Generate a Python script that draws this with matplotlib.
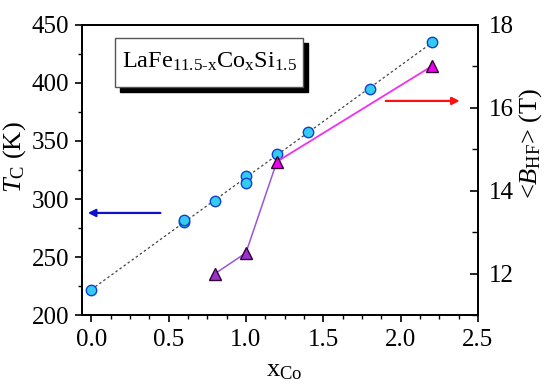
import numpy as np
import matplotlib
matplotlib.use('Agg')
import matplotlib.pyplot as plt
from matplotlib.patches import FancyBboxPatch

plt.rcParams['font.family'] = ['Liberation Serif', 'DejaVu Serif']
plt.rcParams['mathtext.fontset'] = 'custom'
plt.rcParams['mathtext.rm'] = 'Liberation Serif'
plt.rcParams['mathtext.it'] = 'Liberation Serif:italic'

# данные: T_C (левая ось)
x_tc = [0.0, 0.6, 0.6, 0.8, 1.0, 1.0, 1.2, 1.4, 1.8, 2.2]
tc = [222, 280, 282, 298, 320, 314, 339, 358, 395, 435]

# данные: <B_HF> (правая ось)
x_bhf_low = [0.8, 1.0, 1.2]
bhf_low = [12.0, 12.5, 14.7]
x_bhf_high = [1.2, 2.2]
bhf_high = [14.7, 17.0]

fig = plt.figure(figsize=(5.5, 3.89), dpi=100)
ax = fig.add_axes([0.149, 0.190, 0.720, 0.746])
ax2 = ax.twinx()

# линейная аппроксимация T_C
k, b = np.polyfit(x_tc, tc, 1)
xf = np.array([min(x_tc), max(x_tc)])
ax.plot(xf, k * xf + b, ls=(0, (2, 2)), color='#444444', lw=0.9, zorder=2)
ax.plot(x_tc, tc, 'o', ms=7.5, mfc='#33ccf0', mec='#1040d0', mew=1.0, zorder=3)

# <B_HF>
ax2.plot(x_bhf_low, bhf_low, '-', color='#9955dd', lw=1.1)
ax2.plot(x_bhf_high, bhf_high, '-', color='#f030f0', lw=1.3)
ax2.plot(x_bhf_low[:2], bhf_low[:2], '^', ms=9, mfc='#9933cc', mec='#330033', mew=1.0)
ax2.plot(x_bhf_high, bhf_high, '^', ms=9, mfc='#ee00ee', mec='#330033', mew=1.0)

ax.set_xlim(-0.06, 2.5)
ax.set_ylim(200, 450)
ax2.set_ylim(11, 18)

ax.set_xticks(np.arange(0, 2.51, 0.5))
ax.set_xticks(np.arange(0, 2.51, 0.125), minor=True)
ax.set_yticks(np.arange(200, 451, 50))
ax.set_yticks(np.arange(200, 451, 25), minor=True)
ax2.set_yticks([12, 14, 16, 18])
ax2.set_yticks([11, 13, 15, 17], minor=True)

ax.tick_params(axis='both', which='major', direction='out', length=5, width=1.2, labelsize=18)
ax.tick_params(axis='x', which='major', pad=5)
ax.tick_params(axis='y', which='major', pad=4)
ax.tick_params(axis='both', which='minor', direction='out', length=3, width=1.0)
ax2.tick_params(axis='y', which='major', direction='in', length=6, width=1.2, labelsize=18, pad=8)
ax2.tick_params(axis='y', which='minor', direction='in', length=4, width=1.0)
ax.set_xticklabels(['0.0', '0.5', '1.0', '1.5', '2.0', '2.5'])

for s in ax.spines.values():
    s.set_linewidth(1.3)
for s in ax2.spines.values():
    s.set_linewidth(1.3)

ax.set_xlabel(r'x$_\mathrm{Co}$', fontsize=19, va='top')
ax.set_ylabel(r'$T_\mathrm{C}$ (K)', fontsize=19)
ax2.set_ylabel(r'<$B_\mathrm{HF}$> (T)', fontsize=19, rotation=90)
ax.xaxis.set_label_coords(0.51, -0.155)
ax.yaxis.set_label_coords(-0.135, 0.545)
ax2.yaxis.set_label_coords(1.098, 0.59)

# стрелки
ax.annotate('', xy=(-0.04, 288), xytext=(0.465, 288),
            arrowprops=dict(arrowstyle='-|>', color='#1010cc', lw=1.6, mutation_scale=11))
ax.annotate('', xy=(2.40, 384.5), xytext=(1.886, 384.5),
            arrowprops=dict(arrowstyle='-|>', color='#ff1010', lw=1.6, mutation_scale=11))

# подпись состава с тенью
fig.text(0.380, 0.840, r'LaFe$_\mathrm{11.5\text{-}x}$Co$_\mathrm{x}$Si$_\mathrm{1.5}$',
         fontsize=17.5, ha='center', va='center', zorder=10)
bx, by, bw, bh = 115 / 550, 1 - 87 / 389, 188 / 550, 49 / 389
shadow = FancyBboxPatch((bx + 5 / 550, by - 5 / 389), bw, bh, boxstyle='square,pad=0',
                        transform=fig.transFigure, fc='black', ec='black', zorder=8)
box = FancyBboxPatch((bx, by), bw, bh, boxstyle='square,pad=0',
                     transform=fig.transFigure, fc='white', ec='#555555', lw=1.0, zorder=9)
fig.patches.extend([shadow, box])

fig.savefig('out.png', dpi=100)
